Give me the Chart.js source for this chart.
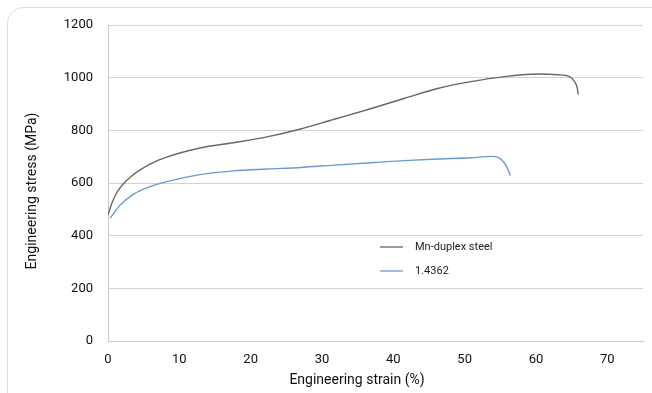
<!DOCTYPE html>
<html>
<head>
<meta charset="utf-8">
<script src="https://cdn.jsdelivr.net/npm/chart.js@4"></script>
<style>
html, body { margin: 0; padding: 0; background: #fff; }
#wrap { position: relative; width: 652px; height: 393px; overflow: hidden; }
#card { position: absolute; left: 7px; top: 7px; width: 700px; height: 420px; border: 1px solid #dcdcdc; border-radius: 16px; }
#chart { position: absolute; left: 0; top: 0; }
</style>
</head>
<body>
<div id="wrap">
<div id="card"></div>
<canvas id="chart" width="652" height="393"></canvas>
</div>
<script>
// Mn-duplex steel curve
const mnStrain = [0, 0.5, 1.2, 2.1, 3.1, 4.5, 5.9, 8.2, 12.9, 17.6, 22.3, 27.0, 31.7, 36.8, 41.5, 46.2, 50.9, 55.6, 60.3, 63.1, 64.7, 65.4, 65.8, 65.9];
const mnStress = [478, 520, 562, 595, 622, 650, 672, 698, 733, 753, 775, 805, 842, 882, 921, 959, 985, 1004, 1014, 1011, 1004, 985, 959, 936];

// 1.4362 curve
const refStrain = [0.3, 1.7, 3.6, 5.9, 8.2, 12.9, 17.6, 22.3, 27.0, 31.7, 36.8, 41.5, 46.2, 50.9, 53.7, 54.7, 55.6, 56.1, 56.4];
const refStress = [466, 516, 558, 586, 605, 632, 646, 653, 659, 668, 677, 685, 691, 696, 701, 697, 675, 649, 628];

const seriesNames = ['Mn-duplex steel', '1.4362'];
const seriesColors = ['#6e655e', '#6b9ad0'];
const xTicks = [0, 10, 20, 30, 40, 50, 60, 70];
const yTicks = [0, 200, 400, 600, 800, 1000, 1200];
const xTitle = 'Engineering strain (%)';
const yTitle = 'Engineering stress (MPa)';

const toPts = (xs, ys) => xs.map((x, i) => ({ x: x, y: ys[i] }));

const fontFam = 'Roboto, "Noto Sans", sans-serif';

// legend inside the plot plus the two axis titles
const annotations = {
  id: 'annotations',
  afterDraw(chart) {
    const ctx = chart.ctx;
    ctx.save();
    ctx.font = '11px ' + fontFam;
    ctx.textBaseline = 'middle';
    seriesNames.forEach((name, i) => {
      const y = 247 + i * 24;
      ctx.strokeStyle = seriesColors[i];
      ctx.lineWidth = 1.3;
      ctx.beginPath();
      ctx.moveTo(380, y);
      ctx.lineTo(403, y);
      ctx.stroke();
      ctx.fillStyle = '#222';
      ctx.textAlign = 'left';
      ctx.fillText(name, 415, y);
    });
    ctx.font = '14px ' + fontFam;
    ctx.fillStyle = '#111';
    ctx.textAlign = 'center';
    ctx.fillText(xTitle, 357, 380);
    ctx.translate(32, 191);
    ctx.rotate(-Math.PI / 2);
    ctx.fillText(yTitle, 0, 0);
    ctx.restore();
  }
};

new Chart(document.getElementById('chart').getContext('2d'), {
  type: 'scatter',
  data: {
    datasets: [{
      label: seriesNames[0],
      data: toPts(mnStrain, mnStress),
      showLine: true,
      borderColor: seriesColors[0],
      borderWidth: 1.4,
      pointRadius: 0,
      cubicInterpolationMode: 'monotone'
    }, {
      label: seriesNames[1],
      data: toPts(refStrain, refStress),
      showLine: true,
      borderColor: seriesColors[1],
      borderWidth: 1.4,
      pointRadius: 0,
      cubicInterpolationMode: 'monotone'
    }]
  },
  options: {
    responsive: false,
    animation: false,
    devicePixelRatio: 1,
    layout: { padding: { left: 0, top: 25, right: 9, bottom: 0 } },
    plugins: {
      legend: { display: false },
      tooltip: { enabled: false }
    },
    scales: {
      x: {
        type: 'linear',
        min: 0,
        max: 75,
        afterBuildTicks: s => { s.ticks = xTicks.map(v => ({ value: v })); },
        afterFit: s => { s.height = 52; },
        grid: { display: false, drawTicks: false },
        border: { display: true, color: '#c8c8c8', width: 1 },
        ticks: { padding: 11, color: '#111', font: { family: fontFam, size: 13 }, maxRotation: 0, callback: v => String(v) }
      },
      y: {
        min: 0,
        max: 1200,
        afterBuildTicks: s => { s.ticks = yTicks.map(v => ({ value: v })); },
        afterFit: s => { s.width = 108; },
        grid: { color: '#d2d2d2', lineWidth: 1, drawTicks: false },
        border: { display: true, color: '#c8c8c8', width: 1 },
        ticks: { padding: 15, color: '#111', font: { family: fontFam, size: 13 }, callback: v => String(v) }
      }
    }
  },
  plugins: [annotations]
});
</script>
</body>
</html>
